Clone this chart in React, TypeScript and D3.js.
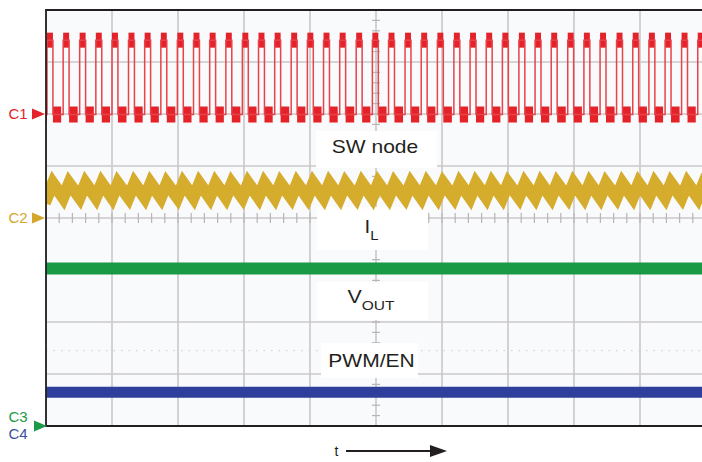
import React from 'react';
import * as d3 from 'd3';

const W = 702;
const H = 462;

// grid divisions (oscilloscope screen: 10 horizontal x 8 vertical)
const gridX = [0, 1, 2, 3, 4, 5, 6, 7, 8, 9, 10];
const gridY = [-4, -3, -2, -1, 0, 1, 2, 3, 4];
const minorStepX = 0.2;
const minorStepY = 0.2;

// SW node: rising-edge times (divisions)
const swRise = [
  0.015, 0.26, 0.51, 0.755, 1.0, 1.25, 1.495, 1.74, 1.99, 2.235,
  2.48, 2.725, 2.975, 3.22, 3.465, 3.715, 3.96, 4.205, 4.45, 4.7,
  4.945, 5.19, 5.44, 5.685, 5.93, 6.18, 6.425, 6.67, 6.915, 7.165,
  7.41, 7.655, 7.905, 8.15, 8.395, 8.645, 8.89, 9.135, 9.38, 9.63, 9.875,
];
const swOnTime = 0.09;
const swHigh = 3.42;
const swLow = 1.99;

// inductor current triangle (divisions)
const ilPeak = 0.67;
const ilValley = 0.39;

// flat traces
const voutLevel = -0.97;
const pwmLevel = -3.35;
const pwmZeroDots = -2.55;

// channel markers
const chNames = ['C1', 'C2', 'C3', 'C4'];
const chColors = ['#e4222a', '#d4a72c', '#1c9a48', '#3b4fa3'];
const chRefs = [2.0, 0, -4, -4];

const RED = '#e4222a';
const GOLD = '#d6ac2c';
const GREEN = '#1b9a46';
const BLUE = '#2e3f9c';
const FONT = '"Liberation Sans", Arial, Helvetica, sans-serif';

export default function App() {
  const x = d3.scaleLinear().domain([0, 10]).range([46, 706]);
  const y = d3.scaleLinear().domain([-4, 4]).range([426, 10]);
  const line = d3.line<[number, number]>().x(d => x(d[0])).y(d => y(d[1]));

  // SW node path
  const swPts: [number, number][] = [[0, swLow]];
  swRise.forEach(r => {
    swPts.push([r, swLow], [r, swHigh], [r + swOnTime, swHigh], [r + swOnTime, swLow]);
  });
  swPts.push([10.2, swLow]);

  // I_L path
  const ilPts: [number, number][] = [[-0.1, ilValley + 0.05]];
  swRise.forEach(r => {
    ilPts.push([r, ilValley], [r + swOnTime, ilPeak]);
  });
  ilPts.push([10.2, ilValley]);

  const minorX = d3.range(0, 10.0001, minorStepX);
  const minorY = d3.range(-4, 4.0001, minorStepY);

  const cx = x(5);
  const cy = y(0);

  return (
    <svg width={W} height={H} style={{ position: 'absolute', left: 0, top: 0, background: '#fff' }} fontFamily={FONT}>
      <defs>
        <clipPath id="plot">
          <rect x={46} y={10} width={W - 46} height={416} />
        </clipPath>
      </defs>
      <rect x={46} y={10} width={W - 46} height={416} fill="#f8fafc" />
      <g clipPath="url(#plot)">
        {gridX.map(g => (
          <line key={'gx' + g} x1={x(g)} x2={x(g)} y1={y(4)} y2={y(-4)} stroke="#cbc7c7" strokeWidth={1.6} />
        ))}
        {gridY.map(g => (
          <line key={'gy' + g} x1={x(0)} x2={x(10)} y1={y(g)} y2={y(g)} stroke="#cbc7c7" strokeWidth={1.6} />
        ))}
        {minorX.map((m, i) => (
          <line key={'mx' + i} x1={x(m)} x2={x(m)} y1={cy - 5} y2={cy + 5} stroke="#b9b5b5" strokeWidth={1.2} />
        ))}
        {minorY.map((m, i) => (
          <line key={'my' + i} x1={cx - 4} x2={cx + 4} y1={y(m)} y2={y(m)} stroke="#b9b5b5" strokeWidth={1.2} />
        ))}
        <line x1={x(0)} x2={x(10)} y1={y(pwmZeroDots)} y2={y(pwmZeroDots)} stroke="#d4d4d8" strokeWidth={1.2} strokeDasharray="1.5 6" />

        {/* label boxes */}
        <rect x={316} y={131} width={121} height={37} fill="#fff" />
        <rect x={317} y={207} width={111} height={43} fill="#fff" />
        <rect x={317} y={282} width={111} height={38} fill="#fff" />
        <rect x={321} y={343} width={97} height={35} fill="#fff" />

        {/* SW node */}
        {swRise.map((r, i) => (
          <rect key={'hb' + i} x={x(r)} y={y(swHigh) - 7.5} width={x(r + swOnTime) - x(r)} height={15} fill={RED} />
        ))}
        {swRise.map((r, i) => {
          const next = i + 1 < swRise.length ? swRise[i + 1] : 10.2;
          return (
            <rect key={'lb' + i} x={x(r + swOnTime)} y={y(swLow) - 8} width={x(next) - x(r + swOnTime) - 2} height={16} fill={RED} />
          );
        })}
        <rect x={x(0)} y={y(swLow) - 8} width={x(swRise[0]) - x(0)} height={16} fill={RED} />
        <path d={line(swPts) || ''} fill="none" stroke="#e8434a" strokeWidth={1.5} />

        {/* I_L */}
        <path d={line(ilPts) || ''} fill="none" stroke={GOLD} strokeWidth={12} strokeLinejoin="miter" strokeMiterlimit={3} />

        {/* V_OUT */}
        <line x1={x(0)} x2={x(10.2)} y1={y(voutLevel)} y2={y(voutLevel)} stroke={GREEN} strokeWidth={12} />
        {/* PWM/EN */}
        <line x1={x(0)} x2={x(10.2)} y1={y(pwmLevel)} y2={y(pwmLevel)} stroke={BLUE} strokeWidth={11} />
      </g>

      {/* frame */}
      <path d={`M${W},10 H46 V426 H${W}`} fill="none" stroke="#231f20" strokeWidth={1.8} />

      {/* trace labels */}
      <g fill="#231f20">
        <text transform={`translate(375,153.3) scale(1.13,1)`} textAnchor="middle" fontSize={18.6}>SW node</text>
        <text transform={`translate(371.5,233) scale(1.1,1)`} textAnchor="middle" fontSize={18.6}>
          I<tspan dy={7} fontSize={13.5}>L</tspan>
        </text>
        <text transform={`translate(371,303.3) scale(1.15,1)`} textAnchor="middle" fontSize={18.6}>
          V<tspan dy={7} fontSize={13.5}>OUT</tspan>
        </text>
        <text transform={`translate(371.5,367) scale(1.13,1)`} textAnchor="middle" fontSize={18.6}>PWM/EN</text>
      </g>

      {/* channel markers */}
      {chNames.map((c, i) => {
        const yy = y(chRefs[i]);
        const baseY = i === 2 ? yy - 4.5 : i === 3 ? yy + 13 : yy + 5.3;
        return (
          <text key={c} x={8.5} y={baseY} fontSize={15} fill={chColors[i]}>{c}</text>
        );
      })}
      {[0, 1, 2].map(i => {
        const yy = y(chRefs[i]);
        const tip = i === 2 ? 47 : 45;
        return (
          <path key={'ar' + i} d={`M${tip - 13},${yy - 5.5} L${tip},${yy} L${tip - 13},${yy + 5.5} Z`} fill={chColors[i]} />
        );
      })}

      {/* time arrow */}
      <text x={334.5} y={456} fontSize={14} fill="#231f20">t</text>
      <line x1={346} x2={432} y1={451} y2={451} stroke="#231f20" strokeWidth={1.8} />
      <path d="M430,445 L447,451 L430,457 Z" fill="#231f20" />
    </svg>
  );
}
